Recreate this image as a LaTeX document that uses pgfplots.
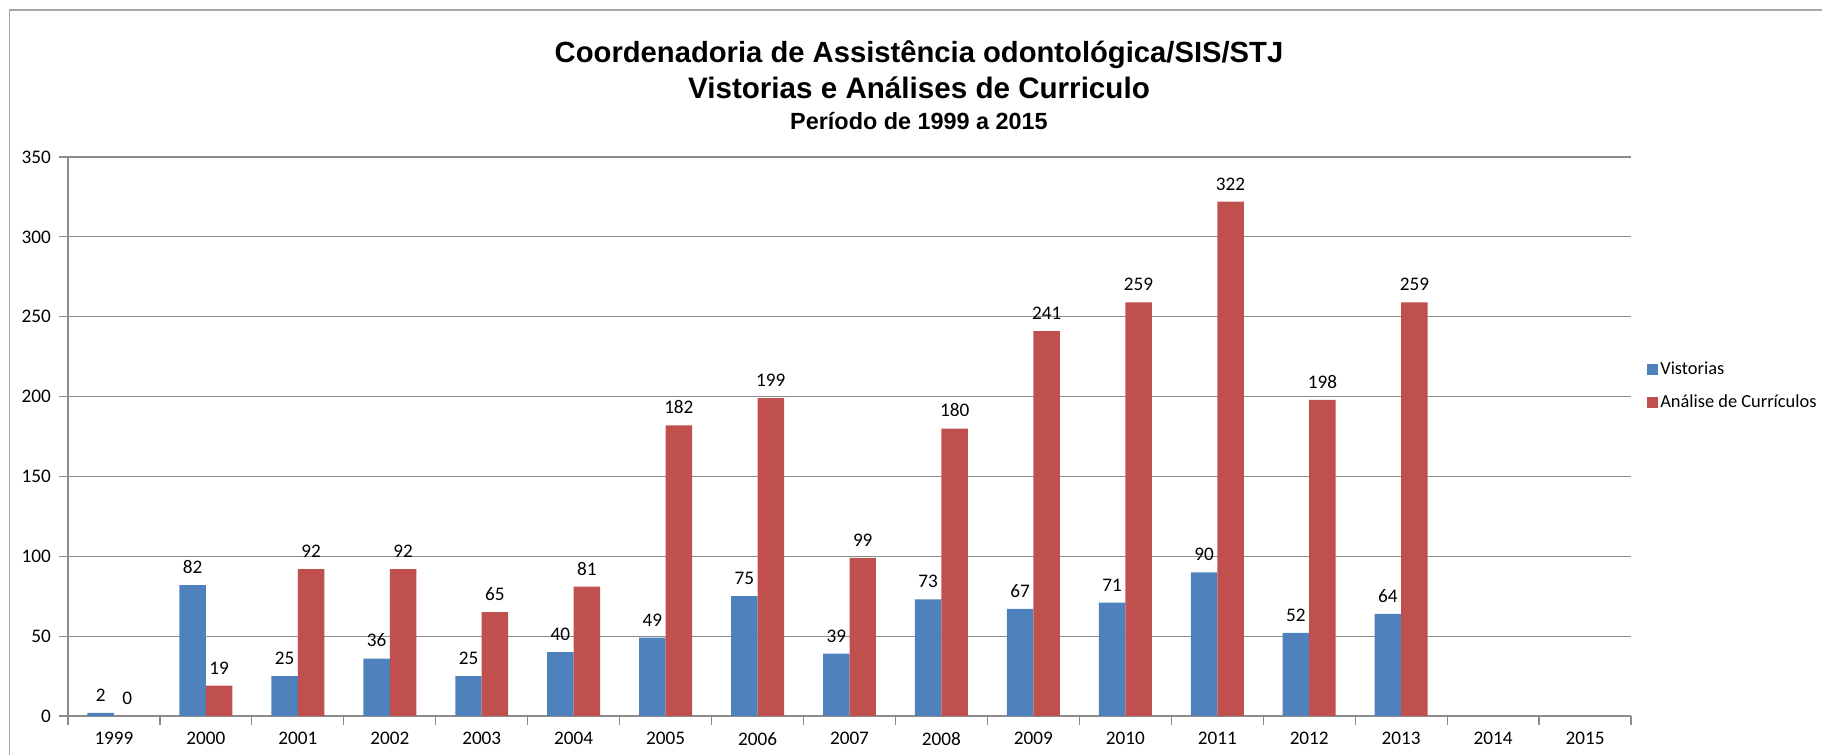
\documentclass[border=0pt]{standalone}
\usepackage{pgfplots}
\usepackage{pgfplotstable}
\pgfplotsset{compat=1.18}
\usepackage{fontspec}
\setmainfont{Carlito}
\newfontfamily\arial{Liberation Sans}
\definecolor{vblue}{HTML}{4F81BD}
\definecolor{ared}{HTML}{C0504D}
\definecolor{gridgray}{HTML}{8C8C8C}
\definecolor{framegray}{HTML}{A6A6A6}
\pgfplotstableread{
x vis ana
0 2 0
1 82 19
2 25 92
3 36 92
4 25 65
5 40 81
6 49 182
7 75 199
8 39 99
9 73 180
10 67 241
11 71 259
12 90 322
13 52 198
14 64 259
}\datatab
\begin{document}
\begin{tikzpicture}
\path[use as bounding box] (0,0) rectangle (911pt,377.5pt);
\draw[framegray, line width=0.8pt] (4.75pt,0pt) -- (4.75pt,372.5pt) -- (911pt,372.5pt);
\node[font=\arial\bfseries\fontsize{14.6}{16}\selectfont] at (459.5pt,350pt) {Coordenadoria de Assistência odontológica/SIS/STJ};
\node[font=\arial\bfseries\fontsize{14.8}{16}\selectfont] at (459.5pt,333.5pt) {Vistorias e Análises de Curriculo};
\node[font=\arial\bfseries\fontsize{11.7}{13}\selectfont] at (459.5pt,317pt) {Período de 1999 a 2015};
\begin{axis}[
  at={(34pt,19.5pt)}, anchor=south west,
  scale only axis, width=781.5pt, height=279.5pt,
  xmin=-0.5, xmax=16.5, ymin=0, ymax=350,
  ybar=0pt, bar width=0.288,
  axis lines*=left,
  axis line style={gridgray, line width=0.6pt},
  ytick={0,50,...,350},
  ymajorgrids,
  grid style={gridgray, line width=0.6pt},
  tick align=outside,
  major tick length=4.5pt,
  tick style={gridgray, line width=0.6pt},
  xtick={-0.5,0.5,1.5,2.5,3.5,4.5,5.5,6.5,7.5,8.5,9.5,10.5,11.5,12.5,13.5,14.5,15.5,16.5},
  xticklabels={},
  extra x ticks={0,1,...,16},
  extra x tick labels={1999,2000,2001,2002,2003,2004,2005,2006,2007,2008,2009,2010,2011,2012,2013,2014,2015},
  extra x tick style={major tick length=0pt, tick style={draw=none}, grid=none},
  xticklabel style={yshift=-4.5pt},
  yticklabel style={xshift=-0.5pt},
  ticklabel style={font=\fontsize{9.6}{11}\selectfont},
  /pgf/number format/assume math mode=true,
  nodes near coords,
  nodes near coords style={font=\fontsize{9.6}{11}\selectfont, anchor=south, inner sep=0pt, yshift=5.5pt, text=black},
  legend style={at={(1.0102,0.59)}, anchor=west, draw=none, fill=none,
    inner sep=0pt, font=\fontsize{9.2}{11}\selectfont, row sep=5.5pt,
    nodes={inner sep=1pt, text height=7pt, text depth=2pt}},
  legend cell align=left,
]
\addplot[fill=vblue, draw=none,
  legend image code/.code={\fill[vblue] (0pt,-2.75pt) rectangle (5.5pt,2.75pt);}]
  table[x=x,y=vis]{\datatab};
\addlegendentry{Vistorias}
\addplot[fill=ared, draw=none,
  legend image code/.code={\fill[ared] (0pt,-2.75pt) rectangle (5.5pt,2.75pt);}]
  table[x=x,y=ana]{\datatab};
\addlegendentry{Análise de Currículos}
\end{axis}
\end{tikzpicture}
\end{document}
